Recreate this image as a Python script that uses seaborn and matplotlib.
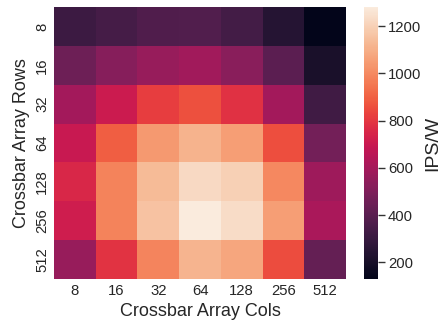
import matplotlib
matplotlib.use("Agg")
import matplotlib.pyplot as plt
import numpy as np
import pandas as pd
import seaborn as sns

# Crossbar sizes and IPS/W values
rows = [8, 16, 32, 64, 128, 256, 512]
cols = [8, 16, 32, 64, 128, 256, 512]

ips_8 = [314, 337, 370, 375, 335, 245, 130]
ips_16 = [452, 520, 565, 590, 527, 400, 210]
ips_32 = [595, 705, 815, 860, 785, 595, 325]
ips_64 = [700, 890, 1040, 1110, 1055, 855, 470]
ips_128 = [750, 980, 1135, 1225, 1195, 995, 580]
ips_256 = [715, 980, 1155, 1280, 1235, 1055, 615]
ips_512 = [565, 790, 985, 1115, 1075, 850, 430]

df = pd.DataFrame(
    [ips_8, ips_16, ips_32, ips_64, ips_128, ips_256, ips_512],
    index=rows,
    columns=cols,
)

sns.set_theme(style="white")
plt.rcParams["font.family"] = ["Liberation Sans", "DejaVu Sans"]

fig = plt.figure(figsize=(4.43, 3.24), dpi=100)
ax = fig.add_axes([0.122, 0.139, 0.659, 0.839])
cax = fig.add_axes([0.822, 0.139, 0.032, 0.839])

sns.heatmap(df, ax=ax, cbar_ax=cax, cmap="rocket")

ax.set_xlabel("Crossbar Array Cols", fontsize=13)
ax.set_ylabel("Crossbar Array Rows", fontsize=13)
ax.tick_params(axis="both", labelsize=10.7, length=0)
ax.set_yticklabels(ax.get_yticklabels(), rotation=90, va="center")

cax.set_yticks([200, 400, 600, 800, 1000, 1200])
cax.tick_params(labelsize=10.7, length=5, width=1, color="#333333", right=True, pad=2)
cax.set_ylabel("IPS/W", fontsize=14, labelpad=2)
for s in cax.spines.values():
    s.set_visible(False)

fig.savefig("out.png", dpi=100)
